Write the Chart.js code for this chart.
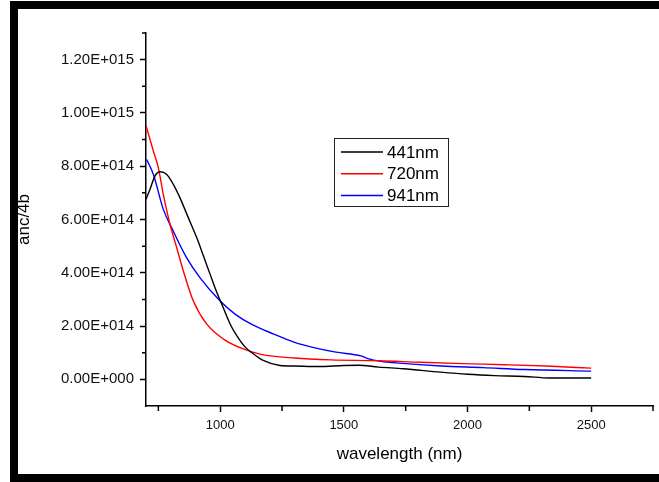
<!DOCTYPE html>
<html>
<head>
<meta charset="utf-8">
<script src="https://cdn.jsdelivr.net/npm/chart.js@4/dist/chart.umd.min.js"></script>
<style>
  html, body { margin: 0; padding: 0; background: #fff; }
  canvas { display: block; }
</style>
</head>
<body>
<canvas id="absChart" width="659" height="482"></canvas>
<script>
// wavelength (nm) / values
const wl441 = [700, 716, 736, 757, 784, 811, 837, 871, 905, 932, 959, 986, 1012, 1040, 1067, 1101, 1134, 1174, 1242, 1300, 1400, 1500, 1560, 1640, 1740, 1890, 2000, 2110, 2230, 2330, 2500];
const val441 = [6.76e14, 7.13e14, 7.63e14, 7.79e14, 7.69e14, 7.31e14, 6.82e14, 6.07e14, 5.32e14, 4.64e14, 3.95e14, 3.27e14, 2.70e14, 2.08e14, 1.64e14, 1.21e14, 0.96e14, 0.71e14, 0.52e14, 0.50e14, 0.48e14, 0.52e14, 0.53e14, 0.46e14, 0.40e14, 0.27e14, 0.19e14, 0.14e14, 0.11e14, 0.05e14, 0.05e14];

const wl720 = [700, 730, 750, 770, 797, 824, 851, 891, 945, 1015, 1085, 1165, 1300, 1450, 1640, 1810, 1980, 2150, 2320, 2500];
const val720 = [9.53e14, 8.56e14, 7.94e14, 6.94e14, 5.82e14, 4.95e14, 4.07e14, 2.95e14, 2.08e14, 1.50e14, 1.17e14, 0.94e14, 0.80e14, 0.73e14, 0.70e14, 0.64e14, 0.59e14, 0.55e14, 0.50e14, 0.42e14];

const wl941 = [703, 730, 770, 810, 864, 918, 999, 1060, 1128, 1214, 1298, 1383, 1468, 1569, 1600, 1650, 1723, 1893, 2063, 2232, 2500];
const val941 = [8.25e14, 7.69e14, 6.38e14, 5.57e14, 4.57e14, 3.82e14, 2.95e14, 2.45e14, 2.06e14, 1.71e14, 1.40e14, 1.18e14, 1.02e14, 0.88e14, 0.77e14, 0.68e14, 0.61e14, 0.50e14, 0.44e14, 0.37e14, 0.31e14];

const seriesLabels = ['441nm', '720nm', '941nm'];
const seriesColors = ['#000000', '#ff0000', '#0000ff'];

const xMajorTicks = [1000, 1500, 2000, 2500];
const xMinorTicks = [750, 1250, 1750, 2250, 2750];
const yMajorTicks = [0, 2e14, 4e14, 6e14, 8e14, 1e15, 1.2e15];
const yTickLabels = ['0.00E+000', '2.00E+014', '4.00E+014', '6.00E+014', '8.00E+014', '1.00E+015', '1.20E+015'];
const yMinorTicks = [1e14, 3e14, 5e14, 7e14, 9e14, 1.1e15, 1.3e15];

const toPoints = (xs, ys) => xs.map((x, i) => ({ x: x, y: ys[i] }));

Chart.defaults.font.family = '"Liberation Sans", Arial, sans-serif';
Chart.defaults.color = '#111';

// black picture frame
const framePlugin = {
    id: 'frame',
    beforeDraw(chart) {
        const ctx = chart.ctx;
        ctx.save();
        ctx.fillStyle = '#fff';
        ctx.fillRect(0, 0, chart.width, chart.height);
        ctx.fillStyle = '#000';
        ctx.fillRect(10, 1, chart.width - 10, 8);
        ctx.fillRect(10, 1, 8, chart.height - 1);
        ctx.fillRect(10, 474, chart.width - 10, 8);
        ctx.restore();
    }
};

// small ticks between the labelled ones
const minorTicksPlugin = {
    id: 'minorTicks',
    afterDraw(chart) {
        const { ctx, scales: { x, y } } = chart;
        ctx.save();
        ctx.strokeStyle = '#000';
        ctx.lineWidth = 1.5;
        ctx.beginPath();
        xMinorTicks.forEach(v => {
            const px = x.getPixelForValue(v);
            ctx.moveTo(px, x.top);
            ctx.lineTo(px, x.top + 5);
        });
        yMinorTicks.forEach(v => {
            const py = y.getPixelForValue(v);
            ctx.moveTo(y.right, py);
            ctx.lineTo(y.right - 4, py);
        });
        ctx.stroke();
        ctx.restore();
    }
};

// boxed legend inside the plot
const boxLegendPlugin = {
    id: 'boxLegend',
    afterDraw(chart) {
        const ctx = chart.ctx;
        const left = 334, top = 138, w = 114, h = 68;
        ctx.save();
        ctx.strokeStyle = '#222';
        ctx.lineWidth = 1;
        ctx.strokeRect(left + 0.5, top + 0.5, w, h);
        ctx.font = '17px "Liberation Sans", Arial, sans-serif';
        ctx.textBaseline = 'middle';
        chart.data.datasets.forEach((ds, i) => {
            const ry = top + 14 + i * 21.7;
            ctx.strokeStyle = ds.borderColor;
            ctx.lineWidth = 1.5;
            ctx.beginPath();
            ctx.moveTo(left + 7, ry);
            ctx.lineTo(left + 49, ry);
            ctx.stroke();
            ctx.fillStyle = '#000';
            ctx.fillText(ds.label, left + 53, ry + 1);
        });
        ctx.restore();
    }
};

const ctx = document.getElementById('absChart');
new Chart(ctx, {
    type: 'line',
    data: {
        datasets: [
            { label: seriesLabels[0], data: toPoints(wl441, val441), borderColor: seriesColors[0] },
            { label: seriesLabels[1], data: toPoints(wl720, val720), borderColor: seriesColors[1] },
            { label: seriesLabels[2], data: toPoints(wl941, val941), borderColor: seriesColors[2] }
        ]
    },
    options: {
        responsive: false,
        animation: false,
        layout: { padding: { left: 0, top: 33, right: 6, bottom: 0 } },
        elements: {
            point: { radius: 0 },
            line: { borderWidth: 1.4, cubicInterpolationMode: 'monotone', fill: false }
        },
        plugins: {
            legend: { display: false },
            tooltip: { enabled: false }
        },
        scales: {
            x: {
                type: 'linear',
                min: 700,
                max: 2750,
                afterBuildTicks: scale => { scale.ticks = xMajorTicks.map(v => ({ value: v })); },
                afterFit: scale => { scale.height = 76; },
                border: { color: '#000', width: 1.5 },
                grid: { drawOnChartArea: false, tickLength: 6, tickColor: '#000', tickWidth: 1.5 },
                ticks: {
                    autoSkip: false,
                    maxRotation: 0,
                    padding: 6,
                    font: { size: 13 },
                    color: '#111',
                    callback: value => String(value)
                },
                title: {
                    display: true,
                    text: 'wavelength (nm)',
                    color: '#000',
                    font: { size: 17 },
                    padding: { top: 0, bottom: 17 }
                }
            },
            y: {
                min: -1e14,
                max: 1.3e15,
                afterBuildTicks: scale => { scale.ticks = yMajorTicks.map(v => ({ value: v })); },
                afterFit: scale => { scale.width = 146; },
                border: { color: '#000', width: 1.5 },
                grid: { drawOnChartArea: false, tickLength: 6, tickColor: '#000', tickWidth: 1.5 },
                ticks: {
                    autoSkip: false,
                    padding: 6,
                    font: { size: 15 },
                    color: '#111',
                    callback: (value, index) => yTickLabels[index]
                },
                title: {
                    display: true,
                    text: 'anc/4b',
                    color: '#000',
                    font: { size: 17 },
                    padding: { top: 14, bottom: 0 }
                }
            }
        }
    },
    plugins: [framePlugin, minorTicksPlugin, boxLegendPlugin]
});
</script>
</body>
</html>
